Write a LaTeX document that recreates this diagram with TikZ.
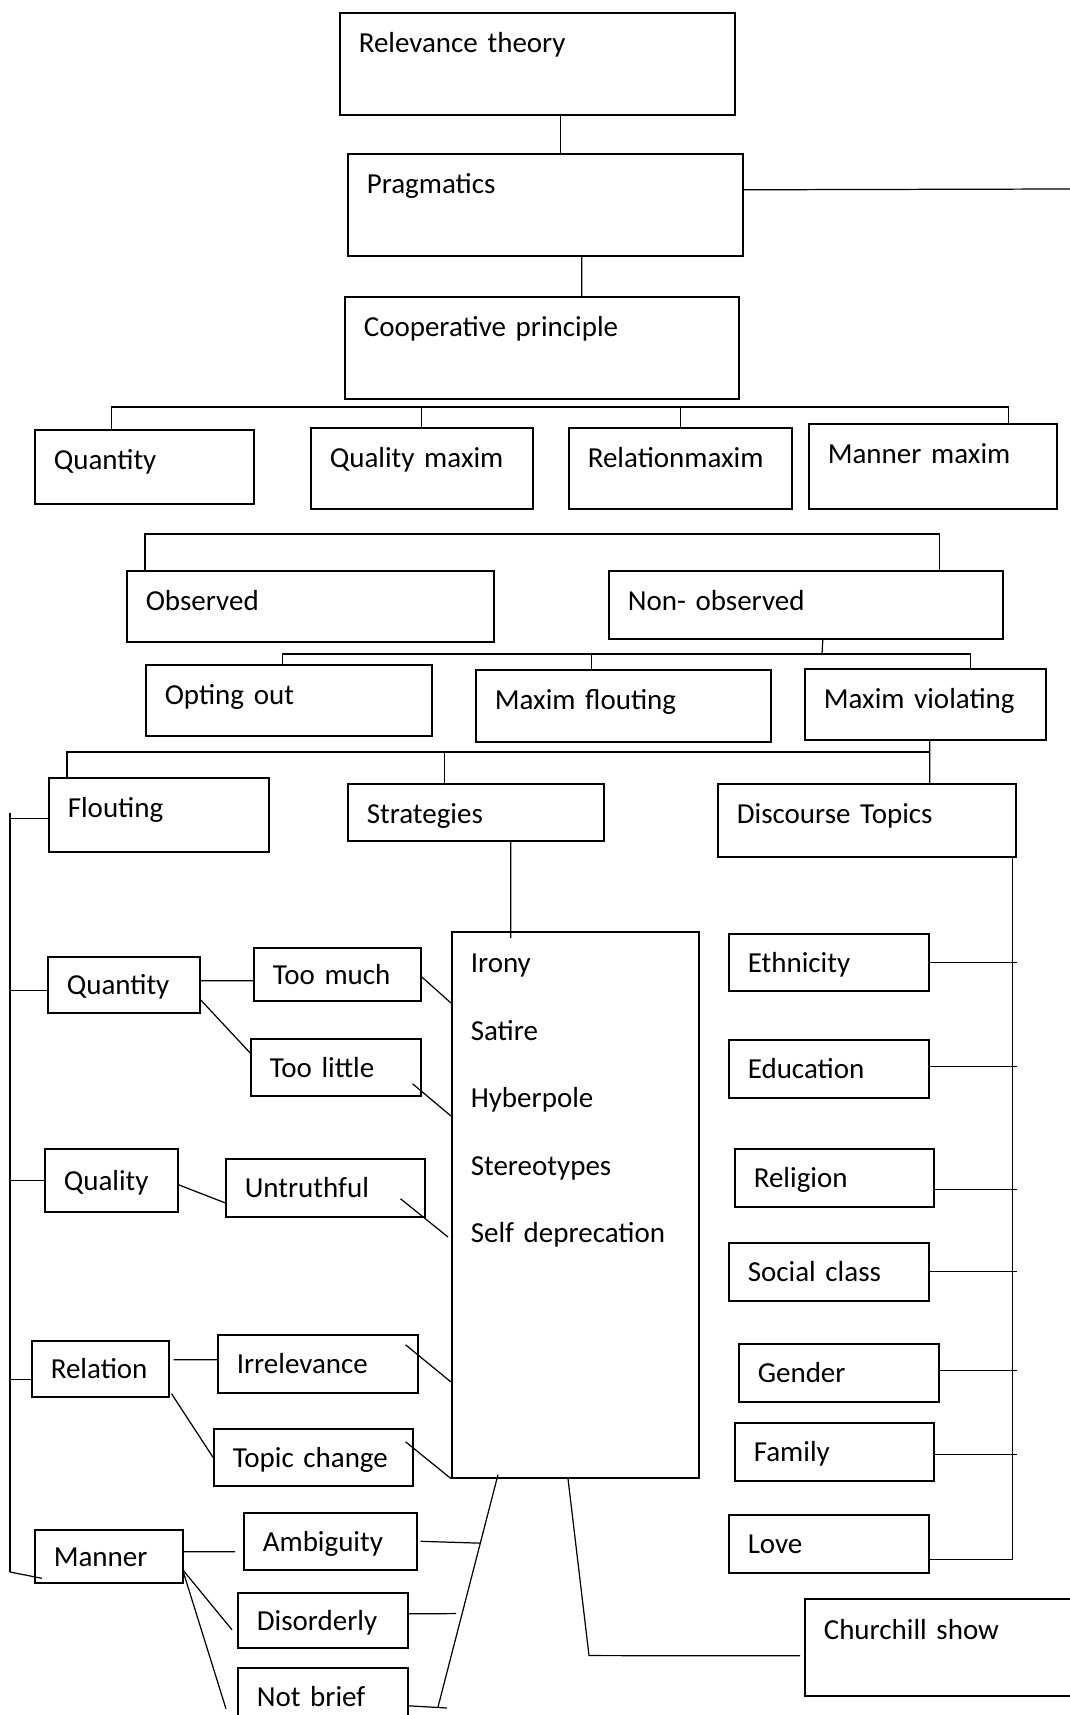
\documentclass[tikz,border=0pt]{standalone}
\usepackage{fontspec}
\setmainfont{Carlito}
\usepackage{tikz}
\usetikzlibrary{calc}
\tikzstyle{block}=[draw, rectangle, anchor=north west, line width=0.9pt, inner xsep=0.38cm, inner ysep=0pt, align=left, text height=15.4pt, text depth=4pt]
\tikzstyle{line}=[draw, line width=0.7pt]
\hyphenpenalty=10000

\begin{document}
\begin{tikzpicture}[font=\fontsize{16.5}{20}\selectfont]
  %\draw [help lines, step=1] (0,-34.3) grid (21.4,0);
  \useasboundingbox (0,0) rectangle (21.4,-34.3);
  \clip (0,0) rectangle (21.4,-34.3);

  \node[block, text width=7.14cm, minimum height=2.04cm, text depth=0.98cm] (relth) at (6.78,-0.24) {Relevance theory};
  \node[block, text width=7.14cm, minimum height=2.04cm, text depth=0.98cm] (prag) at (6.94,-3.06) {Pragmatics};
  \node[block, text width=7.12cm, minimum height=2.04cm, text depth=0.98cm] (coop) at (6.88,-5.92) {Cooperative principle};

  \node[block, text width=3.62cm, minimum height=1.48cm, text depth=0.42cm] (qnm) at (0.68,-8.58) {Quantity};
  \node[block, text width=3.68cm, minimum height=1.62cm, text depth=0.56cm] (qlm) at (6.20,-8.54) {Quality maxim};
  \node[block, text width=3.70cm, minimum height=1.62cm, text depth=0.56cm] (rlm) at (11.36,-8.54) {Relationmaxim};
  \node[block, text width=4.20cm, minimum height=1.70cm, text depth=0.64cm] (mnm) at (16.16,-8.46) {Manner maxim};

  \node[block, text width=6.58cm, minimum height=1.42cm, text depth=0.36cm] (obs) at (2.52,-11.40) {Observed};
  \node[block, text width=7.12cm, minimum height=1.36cm, text depth=0.30cm] (nobs) at (12.16,-11.40) {Non- observed};

  \node[block, text width=4.96cm, minimum height=1.42cm, text depth=0.36cm] (opt) at (2.90,-13.28) {Opting out};
  \node[block, text width=5.14cm, minimum height=1.44cm, text depth=0.38cm] (mflt) at (9.50,-13.38) {Maxim flouting};
  \node[block, text width=4.06cm, minimum height=1.42cm, text depth=0.36cm] (mvio) at (16.08,-13.36) {Maxim violating};

  \node[block, text width=3.64cm, minimum height=1.48cm, text depth=0.42cm] (flout) at (0.96,-15.54) {Flouting};
  \node[block, text width=4.36cm, minimum height=1.14cm, text depth=0.08cm] (strat) at (6.94,-15.66) {Strategies};
  \node[block, text width=5.20cm, minimum height=1.46cm, text depth=0.40cm] (dtop) at (14.34,-15.66) {Discourse Topics};

  % flouting side
  \node[block, text width=2.28cm, minimum height=1.12cm] (qtyf) at (0.94,-19.12) {Quantity};
  \node[block, text width=2.58cm, minimum height=1.06cm] (tmuch) at (5.06,-18.94) {Too much};
  \node[block, text width=2.64cm, minimum height=1.14cm] (tlit) at (5.00,-20.76) {Too little};
  \node[block, text width=1.90cm, minimum height=1.26cm] (qual) at (0.88,-22.96) {Quality};
  \node[block, text width=3.22cm, minimum height=1.16cm] (untr) at (4.50,-23.16) {Untruthful};
  \node[block, text width=1.98cm, minimum height=1.12cm] (relf) at (0.62,-26.80) {Relation};
  \node[block, text width=3.24cm, minimum height=1.16cm] (irr) at (4.34,-26.68) {Irrelevance};
  \node[block, text width=3.22cm, minimum height=1.14cm] (tchg) at (4.26,-28.56) {Topic change};
  \node[block, text width=2.20cm, minimum height=1.06cm] (mann) at (0.68,-30.58) {Manner};
  \node[block, text width=2.70cm, minimum height=1.14cm] (amb) at (4.86,-30.24) {Ambiguity};
  \node[block, text width=2.64cm, minimum height=1.10cm] (dis) at (4.74,-31.84) {Disorderly};
  \node[block, text width=2.64cm, minimum height=1.14cm] (nbr) at (4.74,-33.34) {Not brief};

  \node[block, text width=4.18cm, minimum height=10.92cm, text depth=9.82cm, font=\fontsize{16.5}{38.4}\selectfont] (list) at (9.02,-18.62) {Irony\\Satire\\Hyberpole\\Stereotypes\\Self deprecation};

  % topics side
  \node[block, text width=3.24cm, minimum height=1.14cm] (eth) at (14.56,-18.66) {Ethnicity};
  \node[block, text width=3.24cm, minimum height=1.16cm] (edu) at (14.56,-20.78) {Education};
  \node[block, text width=3.22cm, minimum height=1.16cm] (rel) at (14.68,-22.96) {Religion};
  \node[block, text width=3.24cm, minimum height=1.16cm] (soc) at (14.56,-24.84) {Social class};
  \node[block, text width=3.24cm, minimum height=1.16cm] (gen) at (14.76,-26.86) {Gender};
  \node[block, text width=3.22cm, minimum height=1.16cm] (fam) at (14.68,-28.44) {Family};
  \node[block, text width=3.24cm, minimum height=1.16cm] (love) at (14.56,-30.28) {Love};
  \node[block, text width=5.24cm, minimum height=1.94cm, text depth=0.84cm] (chur) at (16.08,-31.96) {Churchill show};

  % top chain
  \coordinate (redge) at (21.4,-3.78);
  \draw[line] ([xshift=0.47cm]relth.south) -- ([xshift=0.31cm]prag.north);
  \draw[line] ([yshift=0.3cm]prag.east) -- (redge);
  \draw[line] ([xshift=0.73cm]prag.south) -- ([xshift=0.8cm]coop.north);

  \coordinate (bus1) at (11.2,-8.14);
  \draw[line] ([xshift=-0.65cm]qnm.north) |- (bus1) -| ([xshift=1.52cm]mnm.north);
  \draw[line] (qlm.north) -- (qlm.north |- bus1);
  \draw[line] (rlm.north) -- (rlm.north |- bus1);

  \coordinate (bus2) at (11.0,-10.68);
  \draw[line] ([xshift=0.38cm]obs.north west) |- (bus2) -| ([xshift=-1.28cm]nobs.north east);

  \coordinate (bus3) at (16.44,-13.08);
  \draw[line] ([xshift=0.34cm]nobs.south) -- (bus3);
  \draw[line] ([xshift=-0.12cm]opt.north) |- (bus3) -| ([xshift=0.91cm]mvio.north);
  \draw[line] ([xshift=-0.63cm]mflt.north) coordinate (mf) -- (mf |- bus3);

  \coordinate (bus4) at (18.58,-15.04);
  \draw[line] ([xshift=0.09cm]mvio.south) -- ([xshift=1.26cm]dtop.north);
  \draw[line] ([xshift=0.38cm]flout.north west) |- (bus4);
  \draw[line] ([xshift=-0.62cm]strat.north) coordinate (st) -- (st |- bus4);

  % left spine
  \coordinate (sptop) at (0.2,-16.26);
  \coordinate (spbot) at (0.2,-31.44);
  \draw[line] (sptop) -- (spbot);
  \foreach \n/\s in {flout/-0.08cm, qtyf/-0.12cm, qual/0cm, relf/-0.22cm}
    \draw[line] ([yshift=\s]\n.west) coordinate (t) -- (t -| sptop);
  \draw[line] (spbot) -- ([xshift=0.16cm,yshift=-0.44cm]mann.west);

  \draw[line] ([yshift=0.08cm]qtyf.east) -- ([yshift=-0.13cm]tmuch.west);
  \draw[line] ([yshift=-0.3cm]qtyf.east) -- ([yshift=0.29cm]tlit.west);
  \draw[line] ([yshift=-0.05cm]tmuch.east) -- ([yshift=-1.44cm]list.north west);
  \draw[line] ([xshift=-0.18cm,yshift=-0.33cm]tlit.east) -- ([yshift=-3.70cm]list.north west);

  \draw[line] ([yshift=-0.09cm]qual.east) -- ([yshift=-0.3cm]untr.west);
  \draw[line] ([xshift=-0.5cm,yshift=-0.22cm]untr.east) -- ([xshift=-0.06cm,yshift=-6.12cm]list.north west);

  \draw[line] ([xshift=0.08cm,yshift=0.18cm]relf.east) -- ([yshift=0.08cm]irr.west);
  \draw[line] ([xshift=0.04cm,yshift=-0.5cm]relf.east) -- (tchg.west);
  \draw[line] ([xshift=-0.26cm,yshift=0.38cm]irr.east) -- ([yshift=-9.02cm]list.north west);
  \draw[line] ([xshift=-0.16cm,yshift=0.31cm]tchg.east) -- (list.south west);

  \draw[line] ([yshift=0.09cm]mann.east) -- ([xshift=-0.16cm,yshift=-0.21cm]amb.west);
  \draw[line] ([yshift=-0.29cm]mann.east) -- ([xshift=-0.1cm,yshift=-0.19cm]dis.west);
  \draw[line] ([yshift=-0.33cm]mann.east) -- ([xshift=-0.22cm,yshift=-0.25cm]nbr.west);

  \coordinate (lsl) at ([xshift=0.94cm,yshift=0.08cm]list.south west);
  \coordinate (lsr) at (8.76,-34.14);
  \draw[line] (lsl) -- (lsr);
  \draw[line] ([xshift=0.06cm]amb.east) -- ($(lsl)!0.295!(lsr)$);
  \draw[line] ([yshift=0.13cm]dis.east) -- ($(lsl)!0.598!(lsr)+(-0.12,0)$);
  \draw[line] ([yshift=-0.19cm]nbr.east) -- ($(lsr)+(0.18,-0.02)$);

  \draw[line] ([xshift=0.7cm]strat.south) -- ([xshift=-1.29cm,yshift=-0.14cm]list.north);
  \draw[line] ([xshift=2.34cm]list.south west) -- ++(0.42,-3.54) -- ([xshift=-0.08cm,yshift=-0.17cm]chur.west);

  % right spine
  \draw[line] ([xshift=-0.08cm]dtop.south east) |- ([yshift=-0.32cm]love.east);
  \foreach \n/\s in {eth/0cm, edu/0.04cm, rel/-0.24cm, soc/0cm, gen/0.04cm, fam/-0.06cm}
    \draw[line] ([yshift=\s]\n.east) coordinate (t) -- (t -| dtop.east);

\end{tikzpicture}
\end{document}
